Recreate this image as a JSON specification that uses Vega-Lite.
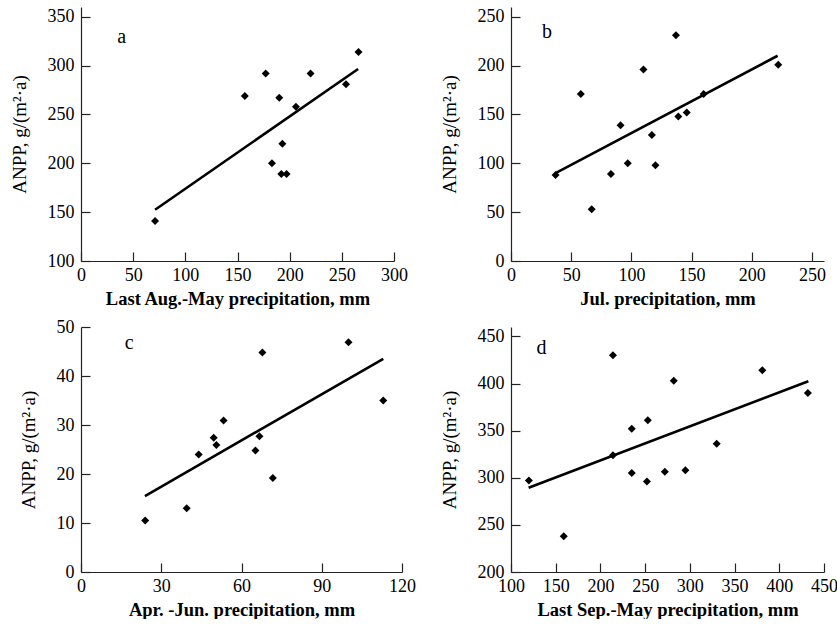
{
  "$schema": "https://vega.github.io/schema/vega-lite/v6.json",
  "autosize": {"type": "pad"},
  "padding": {"left": 10, "top": 7, "right": 0, "bottom": 0},
  "background": "white",
  "datasets": {
    "a_pts": [
      {"precip": 71, "anpp": 141}, {"precip": 157, "anpp": 269}, {"precip": 177, "anpp": 292},
      {"precip": 183, "anpp": 200}, {"precip": 190, "anpp": 267}, {"precip": 193, "anpp": 220},
      {"precip": 192, "anpp": 189}, {"precip": 197, "anpp": 189}, {"precip": 206, "anpp": 258},
      {"precip": 220, "anpp": 292}, {"precip": 254, "anpp": 281}, {"precip": 266, "anpp": 314}
    ],
    "a_fit": [{"precip": 71, "anpp": 152.5}, {"precip": 265.6, "anpp": 296.5}],
    "b_pts": [
      {"precip": 37, "anpp": 88}, {"precip": 58, "anpp": 171}, {"precip": 67, "anpp": 53},
      {"precip": 83, "anpp": 89}, {"precip": 91, "anpp": 139}, {"precip": 97, "anpp": 100},
      {"precip": 110, "anpp": 196}, {"precip": 117, "anpp": 129}, {"precip": 120, "anpp": 98},
      {"precip": 137, "anpp": 231}, {"precip": 139, "anpp": 148}, {"precip": 146, "anpp": 152},
      {"precip": 160, "anpp": 171}, {"precip": 222, "anpp": 201}
    ],
    "b_fit": [{"precip": 37, "anpp": 89.9}, {"precip": 221.5, "anpp": 210.1}],
    "c_pts": [
      {"precip": 24, "anpp": 10.5}, {"precip": 39.5, "anpp": 13}, {"precip": 44, "anpp": 24},
      {"precip": 49.6, "anpp": 27.4}, {"precip": 50.6, "anpp": 25.9}, {"precip": 53.3, "anpp": 30.9},
      {"precip": 65.2, "anpp": 24.8}, {"precip": 66.7, "anpp": 27.7}, {"precip": 67.8, "anpp": 44.8},
      {"precip": 71.7, "anpp": 19.2}, {"precip": 100, "anpp": 46.9}, {"precip": 113, "anpp": 35}
    ],
    "c_fit": [{"precip": 23.9, "anpp": 15.5}, {"precip": 113, "anpp": 43.5}],
    "d_pts": [
      {"precip": 120, "anpp": 297}, {"precip": 159, "anpp": 238}, {"precip": 214, "anpp": 430},
      {"precip": 214, "anpp": 324}, {"precip": 235, "anpp": 352}, {"precip": 235, "anpp": 305},
      {"precip": 252, "anpp": 296}, {"precip": 253, "anpp": 361}, {"precip": 272, "anpp": 306.5},
      {"precip": 282, "anpp": 403}, {"precip": 295, "anpp": 308}, {"precip": 330, "anpp": 336},
      {"precip": 381, "anpp": 414}, {"precip": 432, "anpp": 390}
    ],
    "d_fit": [{"precip": 119.7, "anpp": 289.5}, {"precip": 432.5, "anpp": 402.4}]
  },
  "columns": 2,
  "spacing": {"column": 109, "row": 66},
  "bounds": "flush",
  "concat": [
    {
      "width": 313, "height": 254,
      "layer": [
        {"data": {"name": "a_pts"}, "mark": {"type": "point", "shape": "diamond", "filled": true, "color": "black", "opacity": 1, "size": 64},
         "encoding": {
           "x": {"field": "precip", "type": "quantitative", "scale": {"domain": [0, 300]}, "axis": {"values": [0, 50, 100, 150, 200, 250, 300], "title": "Last Aug.-May precipitation, mm"}},
           "y": {"field": "anpp", "type": "quantitative", "scale": {"domain": [100, 350]}, "axis": {"values": [100, 150, 200, 250, 300, 350], "title": "ANPP, g/(m²·a)"}}}},
        {"data": {"name": "a_fit"}, "mark": {"type": "line", "color": "black", "strokeWidth": 2.6},
         "encoding": {"x": {"field": "precip", "type": "quantitative"}, "y": {"field": "anpp", "type": "quantitative"}}},
        {"data": {"values": [{}]}, "mark": {"type": "text", "text": "a", "font": "Liberation Serif", "fontSize": 20, "color": "black"},
         "encoding": {"x": {"datum": 39}, "y": {"datum": 329}}}
      ]
    },
    {
      "width": 313, "height": 254,
      "layer": [
        {"data": {"name": "b_pts"}, "mark": {"type": "point", "shape": "diamond", "filled": true, "color": "black", "opacity": 1, "size": 64},
         "encoding": {
           "x": {"field": "precip", "type": "quantitative", "scale": {"domain": [0, 250]}, "axis": {"values": [0, 50, 100, 150, 200, 250], "title": "Jul. precipitation, mm"}},
           "y": {"field": "anpp", "type": "quantitative", "scale": {"domain": [0, 250]}, "axis": {"values": [0, 50, 100, 150, 200, 250], "title": "ANPP, g/(m²·a)"}}}},
        {"data": {"name": "b_fit"}, "mark": {"type": "line", "color": "black", "strokeWidth": 2.6},
         "encoding": {"x": {"field": "precip", "type": "quantitative"}, "y": {"field": "anpp", "type": "quantitative"}}},
        {"data": {"values": [{}]}, "mark": {"type": "text", "text": "b", "font": "Liberation Serif", "fontSize": 20, "color": "black"},
         "encoding": {"x": {"datum": 30}, "y": {"datum": 234}}}
      ]
    },
    {
      "width": 321, "height": 245,
      "layer": [
        {"data": {"name": "c_pts"}, "mark": {"type": "point", "shape": "diamond", "filled": true, "color": "black", "opacity": 1, "size": 64},
         "encoding": {
           "x": {"field": "precip", "type": "quantitative", "scale": {"domain": [0, 120]}, "axis": {"values": [0, 30, 60, 90, 120], "title": "Apr. -Jun. precipitation, mm"}},
           "y": {"field": "anpp", "type": "quantitative", "scale": {"domain": [0, 50]}, "axis": {"values": [0, 10, 20, 30, 40, 50], "title": "ANPP, g/(m²·a)"}}}},
        {"data": {"name": "c_fit"}, "mark": {"type": "line", "color": "black", "strokeWidth": 2.6},
         "encoding": {"x": {"field": "precip", "type": "quantitative"}, "y": {"field": "anpp", "type": "quantitative"}}},
        {"data": {"values": [{}]}, "mark": {"type": "text", "text": "c", "font": "Liberation Serif", "fontSize": 20, "color": "black"},
         "encoding": {"x": {"datum": 18}, "y": {"datum": 46.7}}}
      ]
    },
    {
      "width": 313, "height": 245,
      "layer": [
        {"data": {"name": "d_pts"}, "mark": {"type": "point", "shape": "diamond", "filled": true, "color": "black", "opacity": 1, "size": 64},
         "encoding": {
           "x": {"field": "precip", "type": "quantitative", "scale": {"domain": [100, 450]}, "axis": {"values": [100, 150, 200, 250, 300, 350, 400, 450], "title": "Last Sep.-May precipitation, mm"}},
           "y": {"field": "anpp", "type": "quantitative", "scale": {"domain": [200, 450]}, "axis": {"values": [200, 250, 300, 350, 400, 450], "title": "ANPP, g/(m²·a)"}}}},
        {"data": {"name": "d_fit"}, "mark": {"type": "line", "color": "black", "strokeWidth": 2.6},
         "encoding": {"x": {"field": "precip", "type": "quantitative"}, "y": {"field": "anpp", "type": "quantitative"}}},
        {"data": {"values": [{}]}, "mark": {"type": "text", "text": "d", "font": "Liberation Serif", "fontSize": 20, "color": "black"},
         "encoding": {"x": {"datum": 134}, "y": {"datum": 438}}}
      ]
    }
  ],
  "config": {
    "view": {"stroke": null},
    "axis": {
      "grid": false,
      "domainColor": "#222", "domainWidth": 1.2,
      "tickColor": "#222", "tickWidth": 1.2, "tickSize": -9,
      "labelFont": "Liberation Serif", "labelFontSize": 18, "labelColor": "black",
      "labelFlush": false, "labelOverlap": false,
      "titleFont": "Liberation Serif", "titleColor": "black"
    },
    "axisX": {"titleFontWeight": "bold", "titleFontSize": 18.5, "titlePadding": 5, "labelPadding": 14},
    "axisY": {"titleFontWeight": "normal", "titleFontSize": 19, "titlePadding": 18, "labelPadding": 16}
  }
}
